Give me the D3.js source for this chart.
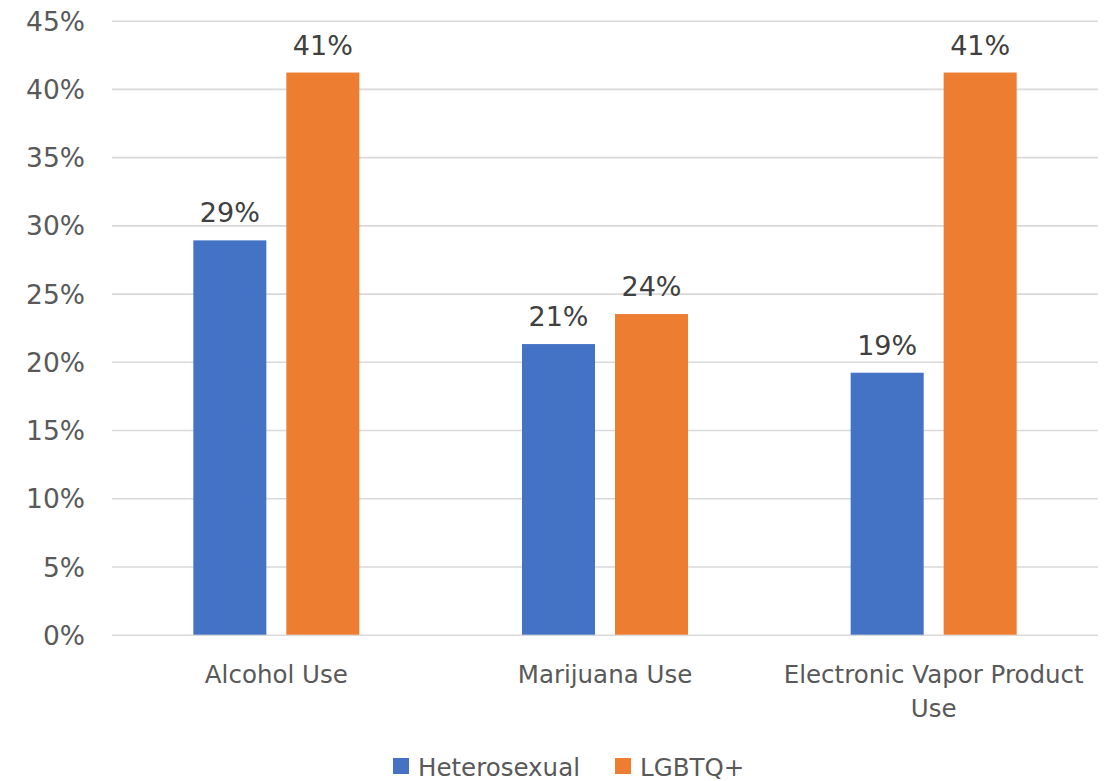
<!DOCTYPE html>
<html>
<head>
<meta charset="utf-8">
<script src="https://cdn.jsdelivr.net/npm/d3@7"></script>
<style>
  html, body { margin: 0; padding: 0; background: #fff; }
  svg { display: block; font-family: "DejaVu Sans", sans-serif; }
</style>
</head>
<body>
<svg id="chart" width="1117" height="781"></svg>
<script>
// Share of students reporting each substance use, by group (percent)
const categories = ["Alcohol Use", "Marijuana Use", "Electronic Vapor Product Use"];
const seriesNames = ["Heterosexual", "LGBTQ+"];
const heterosexual = [28.9, 21.3, 19.2];
const lgbtq = [41.2, 23.5, 41.2];
const yTicks = [0, 5, 10, 15, 20, 25, 30, 35, 40, 45];
const colors = ["#4472C4", "#ED7D31"];

const seriesValues = [heterosexual, lgbtq];

const svg = d3.select("#chart");
const plot = { left: 112, right: 1098, top: 20.7, bottom: 634.7 };

const y = d3.scaleLinear().domain([0, 45]).range([plot.bottom, plot.top]);
const x0 = d3.scaleBand().domain(categories).range([plot.left, plot.right]).padding(0);
const groupWidth = 166;
const x1 = d3.scaleBand().domain(seriesNames)
  .range([(x0.bandwidth() - groupWidth) / 2, (x0.bandwidth() + groupWidth) / 2])
  .paddingInner(0.215).paddingOuter(0);

// Gridlines and y tick labels
const yAxis = d3.axisLeft(y).tickValues(yTicks)
  .tickSize(-(plot.right - plot.left)).tickPadding(27)
  .tickFormat(d => d + "%");
const gy = svg.append("g").attr("transform", `translate(${plot.left},0)`).call(yAxis);
gy.select(".domain").remove();
gy.selectAll(".tick line").attr("stroke", "#d9d9d9").attr("stroke-width", 1.6);
gy.selectAll(".tick text")
  .attr("fill", "#595959").attr("font-size", 26.5).attr("font-family", "DejaVu Sans, sans-serif")
  .attr("dy", "0.36em");

// Bars
const groups = svg.append("g").selectAll("g")
  .data(categories)
  .join("g")
  .attr("transform", d => `translate(${x0(d)},0)`);

groups.selectAll("rect")
  .data((d, i) => seriesNames.map((s, j) => ({ s, v: seriesValues[j][i], j })))
  .join("rect")
  .attr("x", d => x1(d.s))
  .attr("width", x1.bandwidth())
  .attr("y", d => y(d.v))
  .attr("height", d => y(0) - y(d.v))
  .attr("fill", d => colors[d.j]);

// Value labels
groups.selectAll("text.val")
  .data((d, i) => seriesNames.map((s, j) => ({ s, v: seriesValues[j][i], j })))
  .join("text")
  .attr("class", "val")
  .attr("x", d => x1(d.s) + x1.bandwidth() / 2)
  .attr("y", d => y(d.v) - 18)
  .attr("text-anchor", "middle")
  .attr("fill", "#404040")
  .attr("font-size", 27)
  .text(d => Math.round(d.v) + "%");

// Category labels, wrapped to the band width
const catG = svg.append("g");
categories.forEach(c => {
  const cx = x0(c) + x0.bandwidth() / 2;
  const t = catG.append("text")
    .attr("x", cx)
    .attr("y", 683)
    .attr("text-anchor", "middle")
    .attr("fill", "#595959")
    .attr("font-size", 24.5);
  const words = c.split(" ");
  let line = [];
  let tspan = t.append("tspan").attr("x", cx).attr("dy", 0);
  words.forEach(w => {
    line.push(w);
    tspan.text(line.join(" "));
    if (tspan.node().getComputedTextLength() > x0.bandwidth() - 10 && line.length > 1) {
      line.pop();
      tspan.text(line.join(" "));
      line = [w];
      tspan = t.append("tspan").attr("x", cx).attr("dy", 34).text(w);
    }
  });
});

// Legend
const legendItems = [
  { name: seriesNames[0], color: colors[0], x: 393 },
  { name: seriesNames[1], color: colors[1], x: 615 }
];
const lg = svg.append("g");
legendItems.forEach(it => {
  lg.append("rect").attr("x", it.x).attr("y", 758).attr("width", 16).attr("height", 16).attr("fill", it.color);
  lg.append("text").attr("x", it.x + 25).attr("y", 776)
    .attr("fill", "#595959").attr("font-size", 24.5).text(it.name);
});
</script>
</body>
</html>
